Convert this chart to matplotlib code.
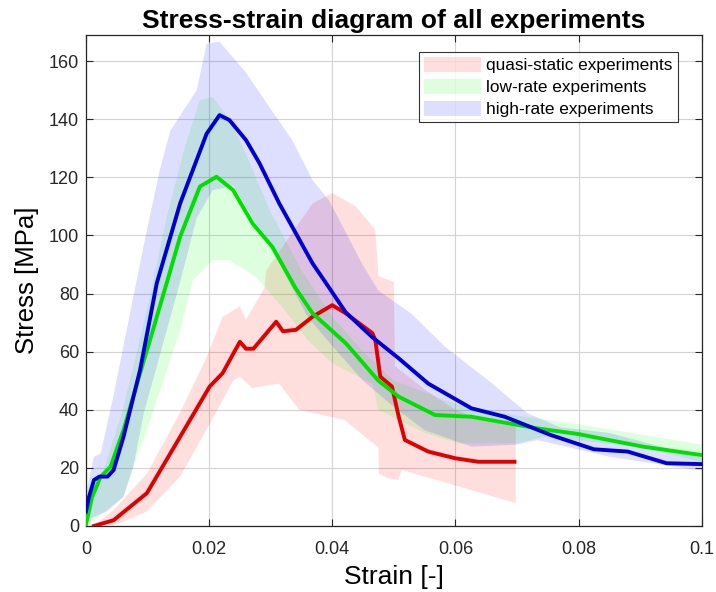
import matplotlib
matplotlib.use("Agg")
import matplotlib.pyplot as plt
from matplotlib.patches import Patch

plt.rcParams['font.family'] = ['Liberation Sans', 'DejaVu Sans']

# ---- mean curves ----
hr_x = [0, 0.0005, 0.0013, 0.0022, 0.0035, 0.0045, 0.0061, 0.0088, 0.0115, 0.0153, 0.0196, 0.0217, 0.0233,
        0.026, 0.0282, 0.0314, 0.0368, 0.0395, 0.0422, 0.0465, 0.0508, 0.0556, 0.0626, 0.068, 0.0755, 0.0825,
        0.088, 0.0943, 0.1]
hr_y = [5, 10, 15.8, 17, 17, 19.3, 30.7, 53.7, 83.5, 111, 135, 141.4, 139.7,
        132.8, 124.8, 111, 90.4, 82, 73.5, 65, 57.7, 49, 40.5, 37.6, 31.3, 26.4,
        25.6, 21.6, 21.3]

lr_x = [0, 0.001, 0.0024, 0.004, 0.0061, 0.0083, 0.0104, 0.0131, 0.0153, 0.0185, 0.0212, 0.0239, 0.0271,
        0.0303, 0.034, 0.0368, 0.0422, 0.0475, 0.0508, 0.0567, 0.0626, 0.0733, 0.0798, 0.0905, 0.1]
lr_y = [0.5, 10, 17, 20.4, 33, 49, 64, 83.5, 99.6, 116.8, 120.2, 115.6, 104,
        96, 82, 73.2, 62.9, 50, 44.5, 38.2, 37.6, 33.6, 31.7, 27.3, 24.4]

qs_x = [0.0013, 0.0045, 0.0099, 0.0153, 0.0201, 0.0222, 0.025, 0.026, 0.0272, 0.0309, 0.032, 0.0341, 0.0368,
        0.04, 0.0422, 0.0465, 0.047, 0.0478, 0.0497, 0.0508, 0.0518, 0.0556, 0.06, 0.0637, 0.0696]
qs_y = [0, 2, 11.3, 30.7, 48, 52.6, 63.4, 61, 61, 70.3, 67, 67.5, 72,
        76, 73.2, 66.4, 64, 51.4, 48, 37.6, 29.6, 25.6, 23.3, 22.1, 22.1]

# ---- scatter bands (upper / lower envelopes) ----
qs_up_x = [0.0015, 0.0045, 0.0099, 0.0153, 0.0196, 0.0222, 0.025, 0.026, 0.029, 0.0293, 0.0368, 0.04, 0.0438,
           0.047, 0.0475, 0.05, 0.0502, 0.055, 0.06, 0.065, 0.0698]
qs_up_y = [0.5, 5.5, 18, 39, 58, 72, 75.5, 70.9, 82, 88, 111, 114.6, 110,
           102, 86, 84, 55, 47, 40, 36, 35]
qs_lo_x = [0.0015, 0.005, 0.0099, 0.0153, 0.0206, 0.0239, 0.025, 0.027, 0.0314, 0.0346, 0.042, 0.0475,
           0.0476, 0.049, 0.0507, 0.0513, 0.0698]
qs_lo_y = [0, 0.5, 5, 17, 37, 50, 51.4, 47.5, 49, 40, 36.5, 27,
           18, 16.5, 15.8, 19.3, 7.9]

lr_up_x = [0, 0.003, 0.006, 0.01, 0.013, 0.016, 0.0185, 0.0206, 0.0233, 0.026, 0.03, 0.035, 0.04, 0.045,
           0.05, 0.06, 0.07, 0.08, 0.09, 0.1]
lr_up_y = [2, 20, 40, 75, 105, 130, 146.6, 147.7, 140, 128, 108, 88, 72, 60,
           50, 42, 38, 35, 31.5, 28]
lr_lo_x = [0, 0.0061, 0.0077, 0.0099, 0.0126, 0.0153, 0.0174, 0.0206, 0.0233, 0.0276, 0.032, 0.036, 0.04,
           0.0465, 0.0475, 0.055, 0.0604, 0.07, 0.0744, 0.0905, 0.1]
lr_lo_y = [0, 10, 20.4, 33, 50.2, 67.4, 84.6, 91.5, 91.5, 85.8, 75, 64, 56,
           49, 40, 32, 28.5, 28.5, 30.7, 27, 22]

hr_up_x = [0, 0.0013, 0.0024, 0.0045, 0.0061, 0.008, 0.0099, 0.012, 0.0137, 0.018, 0.0196, 0.0217, 0.0233,
           0.026, 0.029, 0.0335, 0.0368, 0.0395, 0.042, 0.0448, 0.0475, 0.0529, 0.0583, 0.0653, 0.0717,
           0.077, 0.0851, 0.1]
hr_up_y = [11.2, 23.8, 25, 45, 62, 82, 101.9, 122.5, 136, 150, 166, 166.7, 162.7,
           156, 146.6, 132.8, 119, 112, 101.9, 90.4, 81, 73, 61.7, 50.2, 38.8,
           34, 32, 23.5]
hr_lo_x = [0, 0.0034, 0.0061, 0.0077, 0.0094, 0.0153, 0.018, 0.0206, 0.024, 0.027, 0.0314, 0.036, 0.04,
           0.045, 0.05, 0.055, 0.0626, 0.07, 0.0733, 0.0851, 0.1]
hr_lo_y = [2, 5, 10, 20.4, 38.8, 84, 106, 115.6, 117, 106.4, 90.4, 72, 62,
           50, 41, 33, 27.3, 28, 29.6, 23.8, 19]

legend_labels = ['quasi-static experiments', 'low-rate experiments', 'high-rate experiments']
x_ticks = [0, 0.02, 0.04, 0.06, 0.08, 0.1]
x_tick_labels = ['0', '0.02', '0.04', '0.06', '0.08', '0.1']
y_ticks = [0, 20, 40, 60, 80, 100, 120, 140, 160]

RED, GREEN, BLUE = '#ff0000', '#00ff00', '#0000ff'
LRED, LGREEN, LBLUE = '#e00000', '#00e000', '#0000d0'
ALPHA = 0.13

fig = plt.figure(figsize=(7.16, 5.92), dpi=100)
ax = fig.add_axes([0.120, 0.1115, 0.860, 0.8295])

def band(ux, uy, lx, ly, color):
    px = list(ux) + list(lx)[::-1]
    py = list(uy) + list(ly)[::-1]
    ax.fill(px, py, color=color, alpha=ALPHA, linewidth=0, zorder=1)

band(qs_up_x, qs_up_y, qs_lo_x, qs_lo_y, RED)
band(lr_up_x, lr_up_y, lr_lo_x, lr_lo_y, GREEN)
band(hr_up_x, hr_up_y, hr_lo_x, hr_lo_y, BLUE)

ax.plot(qs_x, qs_y, color=LRED, lw=2.8, zorder=3)
ax.plot(lr_x, lr_y, color=LGREEN, lw=2.8, zorder=3)
ax.plot(hr_x, hr_y, color=LBLUE, lw=2.8, zorder=4)

ax.set_xlim(0, 0.1)
ax.set_ylim(0, 169)
ax.set_xticks(x_ticks)
ax.set_xticklabels(x_tick_labels)
ax.set_yticks(y_ticks)
ax.tick_params(direction='in', top=True, right=True, labelsize=13, length=5, width=0.8,
               colors='#262626')
ax.tick_params(axis='x', pad=11)
ax.tick_params(axis='y', pad=5)
ax.grid(True, color='#d4d4d4', lw=0.8)
ax.set_axisbelow(True)
for s in ax.spines.values():
    s.set_color('#262626')
    s.set_linewidth(0.9)

ax.set_xlabel('Strain [-]', fontsize=19, labelpad=5)
ax.set_ylabel('Stress [MPa]', fontsize=18.5, labelpad=7)
ax.set_title('Stress-strain diagram of all experiments', fontsize=19, fontweight='bold', pad=5)

handles = [Patch(facecolor=c, alpha=ALPHA, edgecolor='none') for c in (RED, GREEN, BLUE)]
leg = ax.legend(handles, legend_labels, loc='upper right', bbox_to_anchor=(678 / 716, 1 - 52 / 592),
                bbox_transform=fig.transFigure, borderaxespad=0,
                fontsize=12.4, frameon=True, fancybox=False,
                handlelength=3.3, handleheight=0.93, labelspacing=0.33, borderpad=0.3, handletextpad=0.3)
leg.get_frame().set_edgecolor('black')
leg.get_frame().set_linewidth(0.8)

fig.savefig('out.png', dpi=100)
